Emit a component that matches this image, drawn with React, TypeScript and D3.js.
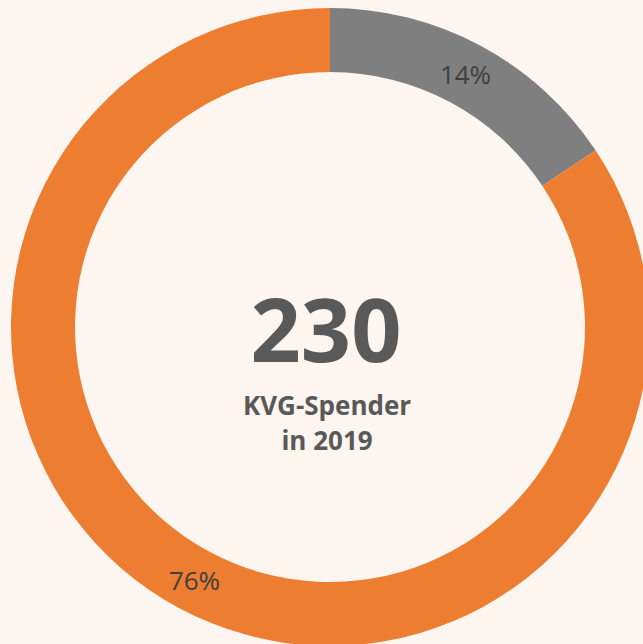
import React, { useEffect } from "react";
import * as d3 from "d3";

const categories = ["Gruppe A", "Gruppe B"];
const values = [36, 194];
const sliceLabels = ["14%", "76%"];
const colors = ["#7F7F7F", "#ED7D31"];
const centerValue = "230";
const centerLines = ["KVG-Spender", "in 2019"];

const W = 643;
const H = 644;
const BG = "#FDF5EF";

export default function App() {
  useEffect(() => {
    document.body.style.margin = "0";
    document.body.style.background = BG;
  }, []);

  const cx = 330;
  const cy = 327;
  const outerR = 319;
  const innerR = 255;

  const pie = d3
    .pie<number>()
    .sort(null)
    .value((d) => d)
    .startAngle(0)
    .endAngle(2 * Math.PI);
  const arcs = pie(values);
  const arc = d3.arc<d3.PieArcDatum<number>>().innerRadius(innerR).outerRadius(outerR);

  const font = "'Open Sans', 'Noto Sans', sans-serif";

  return (
    <svg width={W} height={H} style={{ display: "block", background: BG }}>
      <rect width={W} height={H} fill={BG} />
      <g transform={`translate(${cx},${cy})`}>
        {arcs.map((a, i) => (
          <path key={categories[i]} d={arc(a) || ""} fill={colors[i]} />
        ))}
        {arcs.map((a, i) => {
          const [x, y] = arc.centroid(a);
          return (
            <text
              key={"l" + i}
              x={x}
              y={y}
              textAnchor="middle"
              dominantBaseline="central"
              fontFamily={font}
              fontSize={26}
              fill="#404040"
            >
              {sliceLabels[i]}
            </text>
          );
        })}
        <text
          x={-4}
          y={35}
          textAnchor="middle"
          fontFamily={font}
          fontWeight={700}
          fontSize={88}
          fill="#595959"
        >
          {centerValue}
        </text>
        {centerLines.map((t, i) => (
          <text
            key={t}
            x={-3}
            y={88 + i * 35}
            textAnchor="middle"
            fontFamily={font}
            fontWeight={700}
            fontSize={26}
            fill="#595959"
          >
            {t}
          </text>
        ))}
      </g>
    </svg>
  );
}
